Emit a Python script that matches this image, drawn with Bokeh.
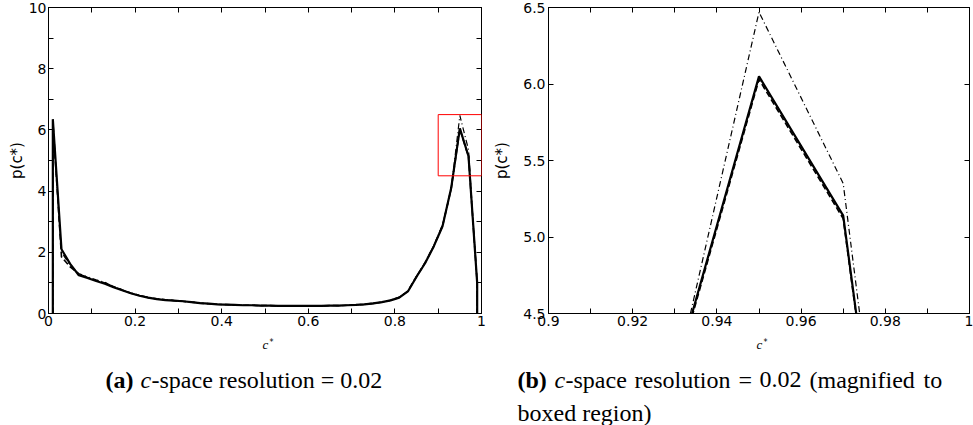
from bokeh.plotting import figure
from bokeh.layouts import row, column
from bokeh.models import (LinearAxis, FixedTicker, CustomJSTickFormatter, Label,
                          BoxAnnotation, Range1d)
from bokeh.embed import file_html
from bokeh.resources import INLINE

# ---------------- data ----------------
c_star = [0.01, 0.01, 0.03, 0.05, 0.07, 0.09, 0.11, 0.13, 0.15, 0.17, 0.19,
          0.21, 0.23, 0.25, 0.27, 0.29, 0.31, 0.33, 0.35, 0.37, 0.39,
          0.41, 0.43, 0.45, 0.47, 0.49, 0.51, 0.53, 0.55, 0.57, 0.59,
          0.61, 0.63, 0.65, 0.67, 0.69, 0.71, 0.73, 0.75, 0.77, 0.79,
          0.81, 0.83, 0.85, 0.87, 0.89, 0.91, 0.93, 0.95, 0.97, 0.99, 0.99]

p_solid = [0.0, 6.35, 2.10, 1.62, 1.25, 1.16, 1.06, 0.97, 0.86, 0.76, 0.66,
           0.58, 0.52, 0.47, 0.44, 0.42, 0.40, 0.37, 0.34, 0.32, 0.30,
           0.29, 0.28, 0.27, 0.27, 0.26, 0.26, 0.25, 0.25, 0.25, 0.25,
           0.25, 0.25, 0.26, 0.26, 0.27, 0.28, 0.30, 0.33, 0.37, 0.43,
           0.52, 0.72, 1.20, 1.65, 2.20, 2.85, 4.10, 6.05, 5.14, 1.00, 0.0]

p_dashed = [0.0, 6.30, 1.85, 1.52, 1.30, 1.18, 1.08, 1.00, 0.88, 0.77, 0.67,
            0.59, 0.52, 0.48, 0.45, 0.42, 0.40, 0.37, 0.34, 0.32, 0.30,
            0.29, 0.28, 0.27, 0.27, 0.26, 0.26, 0.25, 0.25, 0.25, 0.25,
            0.25, 0.25, 0.26, 0.26, 0.27, 0.28, 0.30, 0.33, 0.37, 0.43,
            0.53, 0.73, 1.21, 1.66, 2.21, 2.86, 4.08, 6.03, 5.12, 1.00, 0.0]

p_dashdot = [0.0, 6.25, 2.00, 1.58, 1.28, 1.20, 1.10, 1.02, 0.87, 0.78, 0.66,
             0.60, 0.53, 0.47, 0.44, 0.43, 0.40, 0.38, 0.34, 0.32, 0.30,
             0.29, 0.28, 0.27, 0.27, 0.26, 0.26, 0.25, 0.25, 0.25, 0.25,
             0.25, 0.25, 0.26, 0.26, 0.27, 0.28, 0.30, 0.33, 0.37, 0.43,
             0.53, 0.74, 1.22, 1.68, 2.22, 2.90, 4.05, 6.47, 5.35, 1.00, 0.0]

full_x_ticks = [0, 0.2, 0.4, 0.6, 0.8, 1.0]
full_x_minor = [0.1, 0.3, 0.5, 0.7, 0.9]
full_y_ticks = [0, 2, 4, 6, 8, 10]
full_y_minor = [1, 3, 5, 7, 9]

zoom_x = (0.9, 1.0)
zoom_y = (4.5, 6.5)
zoom_x_ticks = [0.9, 0.92, 0.94, 0.96, 0.98, 1.0]
zoom_x_minor = [0.91, 0.93, 0.95, 0.97, 0.99]
zoom_y_ticks = [4.5, 5.0, 5.5, 6.0, 6.5]

y_label = "p(c*)"
caption_a = ["(a)", "c", "-space resolution = 0.02"]
caption_b1 = ["(b)", "c", "-space", "resolution", "=", "0.02", "(magnified", "to"]
caption_b2 = "boxed region)"

# ---------------- helpers ----------------
W = 973
H_MAIN = 332
H_CAP = 425 - H_MAIN
TOP = 7
BOTTOM = 313
TICK_FONT = "DejaVu Sans"
SERIF = "Liberation Serif"


def fmt(code):
    return CustomJSTickFormatter(code=code)


def make_fig(width, border_left, border_right, xr, yr, xt, xm, yt, ym, xcode, ycode,
             ystandoff, label_standoff):
    p = figure(width=width, height=H_MAIN, output_backend="svg", toolbar_location=None,
               x_range=Range1d(*xr), y_range=Range1d(*yr),
               min_border_left=border_left, min_border_right=border_right,
               min_border_top=TOP, min_border_bottom=H_MAIN - BOTTOM,
               background_fill_color="white", border_fill_color="white")
    p.xgrid.visible = False
    p.ygrid.visible = False
    p.outline_line_color = "black"
    p.outline_line_width = 1
    p.outline_line_alpha = 1.0
    xtick = FixedTicker(ticks=xt, minor_ticks=xm)
    ytick = FixedTicker(ticks=yt, minor_ticks=ym)
    p.xaxis.ticker = xtick
    p.yaxis.ticker = ytick
    p.xaxis.formatter = fmt(xcode)
    p.yaxis.formatter = fmt(ycode)
    for ax in (p.xaxis[0], p.yaxis[0]):
        ax.major_tick_in = 5
        ax.major_tick_out = 0
        ax.minor_tick_in = 5
        ax.minor_tick_out = 0
        ax.axis_line_color = "black"
        ax.major_tick_line_color = "black"
        ax.minor_tick_line_color = "black"
        ax.major_label_text_font = TICK_FONT
        ax.major_label_text_font_size = "14px"
        ax.major_label_text_color = "black"
    p.xaxis[0].major_label_standoff = 2
    yax = p.yaxis[0]
    yax.major_label_standoff = ystandoff
    yax.axis_label = y_label
    yax.axis_label_text_font = TICK_FONT
    yax.axis_label_text_font_style = "normal"
    yax.axis_label_text_font_size = "15px"
    yax.axis_label_text_color = "black"
    yax.axis_label_standoff = label_standoff
    blank = CustomJSTickFormatter(code="return '';")
    top = LinearAxis(ticker=xtick, formatter=blank,
                     major_label_standoff=0, major_tick_in=5, major_tick_out=0,
                     minor_tick_in=5, minor_tick_out=0, axis_line_color="black")
    rgt = LinearAxis(ticker=ytick, formatter=blank,
                     major_label_standoff=0, major_tick_in=5, major_tick_out=0,
                     minor_tick_in=5, minor_tick_out=0, axis_line_color="black")
    p.add_layout(top, "above")
    p.add_layout(rgt, "right")
    return p


def draw_lines(p):
    p.line(c_star, p_dashdot, line_color="black", line_width=1.2, line_dash="6 3 1 3")
    p.line(c_star, p_dashed, line_color="black", line_width=1.6, line_dash="6 3")
    p.line(c_star, p_solid, line_color="black", line_width=2.2)


def label(p, sx, sy, text, size, font=SERIF, style="normal",
          align="left", baseline="alphabetic"):
    p.add_layout(Label(x=sx, y=sy, x_units="screen", y_units="screen",
                       text=text, text_font=font,
                       text_font_size=f"{size}px", text_font_style=style,
                       text_align=align, text_baseline=baseline,
                       text_color="black"))


# ---------------- left figure: frame 48..481 ----------------
PA_W = 490
pa = make_fig(PA_W, 48, PA_W - 481, (0, 1), (0, 10), full_x_ticks, full_x_minor,
              full_y_ticks, full_y_minor,
              "return Number(tick.toFixed(4)).toString();",
              "return Number(tick.toFixed(4)).toString();", 2, 0)
draw_lines(pa)
pa.add_layout(BoxAnnotation(left=zoom_x[0], right=zoom_x[1], bottom=zoom_y[0],
                            top=zoom_y[1], fill_alpha=0, fill_color=None,
                            line_color="red", line_alpha=1.0, line_width=1.0))

# ---------------- right figure: frame 543..969 ----------------
PB_W = W - PA_W
pb = make_fig(PB_W, 543 - PA_W, W - 969, zoom_x, zoom_y, zoom_x_ticks, zoom_x_minor,
              zoom_y_ticks, [],
              "return Number(tick.toFixed(4)).toString();",
              "return tick.toFixed(1);", 3, 9)
draw_lines(pb)

# ---------------- caption strip ----------------
cap = figure(width=W, height=H_CAP, output_backend="svg", toolbar_location=None,
             x_range=Range1d(0, 1), y_range=Range1d(0, 1),
             min_border_left=0, min_border_right=0, min_border_top=0,
             min_border_bottom=0, x_axis_type=None, y_axis_type=None,
             background_fill_color="white", border_fill_color="white")
cap.outline_line_color = None
cap.xgrid.visible = False
cap.ygrid.visible = False


def cy(py):
    return 425 - py


for xc in (265, 759):
    label(cap, xc, cy(344), "c", 13, style="italic", align="center")
    label(cap, xc + 4, cy(342), "*", 8, font=TICK_FONT)

CAP = 24
label(cap, 105, cy(379), caption_a[0], CAP, style="bold")
label(cap, 140, cy(379), caption_a[1], CAP, style="italic")
label(cap, 151, cy(379), caption_a[2], CAP)

# justified first line of caption (b)
b_x = [517, 554, 565, 634, 738, 759, 809, 923]
b_style = ["bold", "italic", "normal", "normal", "normal", "normal", "normal", "normal"]
for t, x, s in zip(caption_b1, b_x, b_style):
    label(cap, x, cy(379), t, CAP, style=s)
label(cap, 517, cy(412), caption_b2, CAP)

layout = column(row(pa, pb), cap)
open("out.html", "w").write(file_html(layout, INLINE))
